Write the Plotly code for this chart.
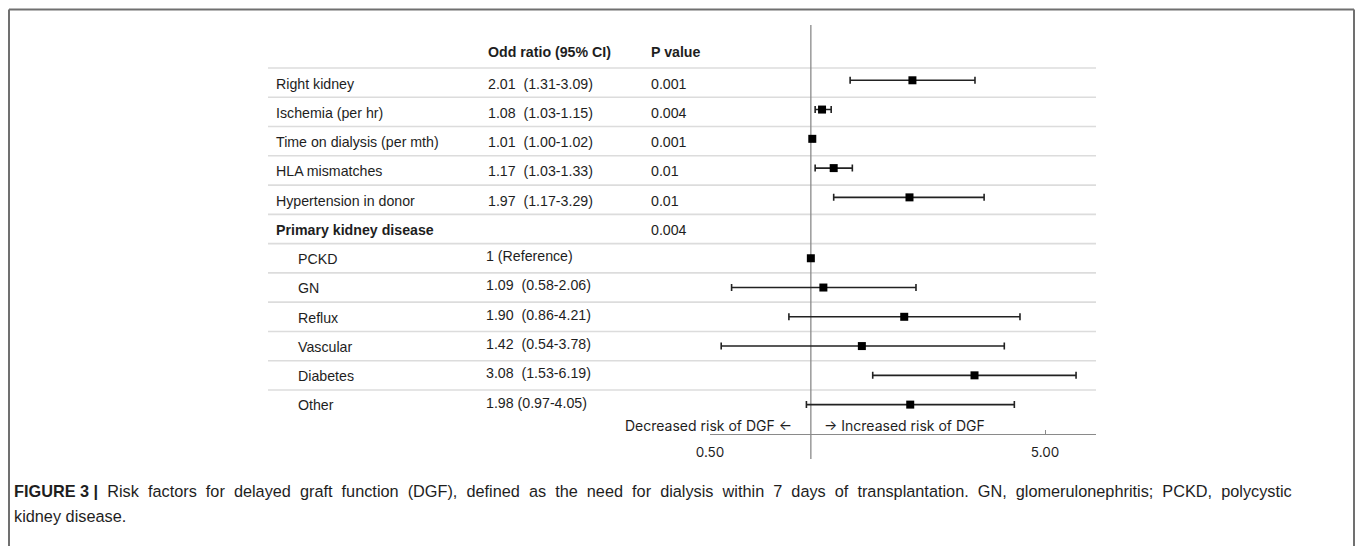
import math
import plotly.graph_objects as go

# ---- data ----
labels = ["Right kidney", "Ischemia (per hr)", "Time on dialysis (per mth)", "HLA mismatches",
          "Hypertension in donor", "Primary kidney disease", "PCKD", "GN", "Reflux",
          "Vascular", "Diabetes", "Other"]
indent = [False, False, False, False, False, False, True, True, True, True, True, True]
bold = [False, False, False, False, False, True, False, False, False, False, False, False]
or_text = ["2.01\u00a0 (1.31-3.09)", "1.08\u00a0 (1.03-1.15)", "1.01\u00a0 (1.00-1.02)",
           "1.17\u00a0 (1.03-1.33)", "1.97\u00a0 (1.17-3.29)", "", "1 (Reference)",
           "1.09\u00a0 (0.58-2.06)", "1.90\u00a0 (0.86-4.21)", "1.42\u00a0 (0.54-3.78)",
           "3.08\u00a0 (1.53-6.19)", "1.98 (0.97-4.05)"]
p_text = ["0.001", "0.004", "0.001", "0.01", "0.01", "0.004", "", "", "", "", "", ""]
or_vals = [2.01, 1.08, 1.01, 1.17, 1.97, None, 1.00, 1.09, 1.90, 1.42, 3.08, 1.98]
ci_low = [1.31, 1.03, 1.00, 1.03, 1.17, None, 1.00, 0.58, 0.86, 0.54, 1.53, 0.97]
ci_high = [3.09, 1.15, 1.02, 1.33, 3.29, None, 1.00, 2.06, 4.21, 3.78, 6.19, 4.05]
tick_vals = [0.5, 5.0]
tick_text = ["0.50", "5.00"]
header_or = "Odd ratio (95% CI)"
header_p = "P value"
left_note = "Decreased risk of DGF \u2190"
right_note = "\u2192 Increased risk of DGF"
caption_head = "FIGURE 3 |"
caption_line1 = ("Risk factors for delayed graft function (DGF), defined as the need for dialysis "
                 "within 7 days of transplantation. GN, glomerulonephritis; PCKD, polycystic")
caption_line2 = "kidney disease."

# ---- layout geometry ----
W, H = 1357, 546
def px(x):
    return x / W
def py(y):
    return 1 - y / H

row_top_sep = 68.0
row_h = 29.27
def row_of(pix):
    return (pix - (row_top_sep + row_h / 2)) / row_h

y_top, y_bot = 25, 459
y_bottom_val, y_top_val = row_of(y_bot), row_of(y_top)
n = len(labels)
rows = list(range(n))

TXT = "#1e1e1e"
FONT = "Liberation Sans, Arial, sans-serif"
FS = 14.2

fig = go.Figure()

# reference line at OR = 1
fig.add_trace(go.Scatter(x=[1, 1], y=[y_bottom_val, y_top_val], mode="lines",
                         line=dict(color="#8a8a8a", width=1.3), hoverinfo="skip", showlegend=False))

xs, ys, ep, em = [], [], [], []
for i in rows:
    if or_vals[i] is None:
        continue
    xs.append(or_vals[i]); ys.append(i - (0.08 if i < 5 else 0.0))
    ep.append(ci_high[i] - or_vals[i]); em.append(or_vals[i] - ci_low[i])

fig.add_trace(go.Scatter(
    x=xs, y=ys, mode="markers",
    marker=dict(symbol="square", size=8, color="black"),
    error_x=dict(type="data", array=ep, arrayminus=em, color="#222222", thickness=1.6, width=3.5),
    showlegend=False, hoverinfo="skip"))

shapes = []
# row separators
for k in range(n):
    yb = k - 0.5
    shapes.append(dict(type="line", xref="paper", yref="y", x0=px(268), x1=px(1096), y0=yb, y1=yb,
                       line=dict(color="#dcdcdc", width=1.6), layer="below"))
# frame
frame_col = "#707070"
shapes.append(dict(type="line", xref="paper", yref="paper", x0=px(9), x1=px(1354), y0=py(9.5), y1=py(9.5),
                   line=dict(color=frame_col, width=2)))
shapes.append(dict(type="line", xref="paper", yref="paper", x0=px(9), x1=px(9), y0=py(9.5), y1=0,
                   line=dict(color=frame_col, width=2)))
shapes.append(dict(type="line", xref="paper", yref="paper", x0=px(1354), x1=px(1354), y0=py(9.5), y1=0,
                   line=dict(color=frame_col, width=2)))

ann = []
ann.append(dict(xref="paper", yref="y", x=px(486), y=-1.05, text="<b>" + header_or + "</b>",
                xanchor="left", yanchor="middle", showarrow=False, font=dict(size=FS, color=TXT, family=FONT)))
ann.append(dict(xref="paper", yref="y", x=px(649), y=-1.05, text="<b>" + header_p + "</b>",
                xanchor="left", yanchor="middle", showarrow=False, font=dict(size=FS, color=TXT, family=FONT)))
for i in rows:
    lab = labels[i]
    if bold[i]:
        lab = "<b>" + lab + "</b>"
    ann.append(dict(xref="paper", yref="y", x=px(296 if indent[i] else 274), y=i + 0.03, text=lab,
                    xanchor="left", yanchor="middle", showarrow=False, font=dict(size=FS, color=TXT, family=FONT)))
    if or_text[i]:
        ann.append(dict(xref="paper", yref="y", x=px(486 if not indent[i] else 484), y=i + (0.03 if not indent[i] else -0.07),
                        text=or_text[i], xanchor="left", yanchor="middle", showarrow=False,
                        font=dict(size=FS, color=TXT, family=FONT)))
    if p_text[i]:
        ann.append(dict(xref="paper", yref="y", x=px(649), y=i + 0.03, text=p_text[i],
                        xanchor="left", yanchor="middle", showarrow=False, font=dict(size=FS, color=TXT, family=FONT)))

note_y = row_of(425)
ann.append(dict(xref="x", yref="y", x=math.log10(1), y=note_y, text=left_note, xanchor="right", yanchor="middle",
                xshift=-17, showarrow=False, font=dict(size=14, color=TXT, family="Inter, sans-serif")))
ann.append(dict(xref="x", yref="y", x=math.log10(1), y=note_y, text=right_note, xanchor="left", yanchor="middle",
                xshift=11, showarrow=False, font=dict(size=14, color=TXT, family="Inter, sans-serif")))

gap = "\u00a0 "
line1 = "<b>" + caption_head.replace(" |", "\u00a0|") + "</b>" + gap + caption_line1.replace(" ", gap)
ann.append(dict(xref="paper", yref="paper", x=px(12), y=py(491), text=line1, xanchor="left", yanchor="middle",
                align="left", showarrow=False, font=dict(size=16.3, color=TXT, family=FONT)))
ann.append(dict(xref="paper", yref="paper", x=px(12), y=py(516), text=caption_line2, xanchor="left", yanchor="middle",
                align="left", showarrow=False, font=dict(size=16.3, color=TXT, family=FONT)))

x_lo = math.log10(0.5)
x_hi = x_lo + (1096 - 710) / 335.0

fig.update_layout(
    width=W, height=H, margin=dict(l=0, r=0, t=0, b=0, pad=0, autoexpand=False),
    paper_bgcolor="white", plot_bgcolor="white",
    shapes=shapes, annotations=ann, showlegend=False,
    xaxis=dict(type="log", domain=[px(710), px(1096)], range=[x_lo, x_hi],
               anchor="free", position=py(434), automargin=False,
               showline=True, linecolor="#8a8a8a", linewidth=1.3,
               showgrid=False, zeroline=False,
               tickvals=tick_vals, ticktext=tick_text, ticks="inside", ticklen=4,
               ticklabelstandoff=6,
               tickcolor="#8a8a8a", tickfont=dict(size=13.5, color=TXT, family="Inter, sans-serif")),
    yaxis=dict(domain=[py(y_bot), py(y_top)], range=[y_bottom_val, y_top_val], visible=False,
               showgrid=False, zeroline=False, automargin=False),
)

fig.write_html("out.html", config={"displayModeBar": False},
               post_script="document.body.style.margin='0';document.body.style.overflow='hidden';")
